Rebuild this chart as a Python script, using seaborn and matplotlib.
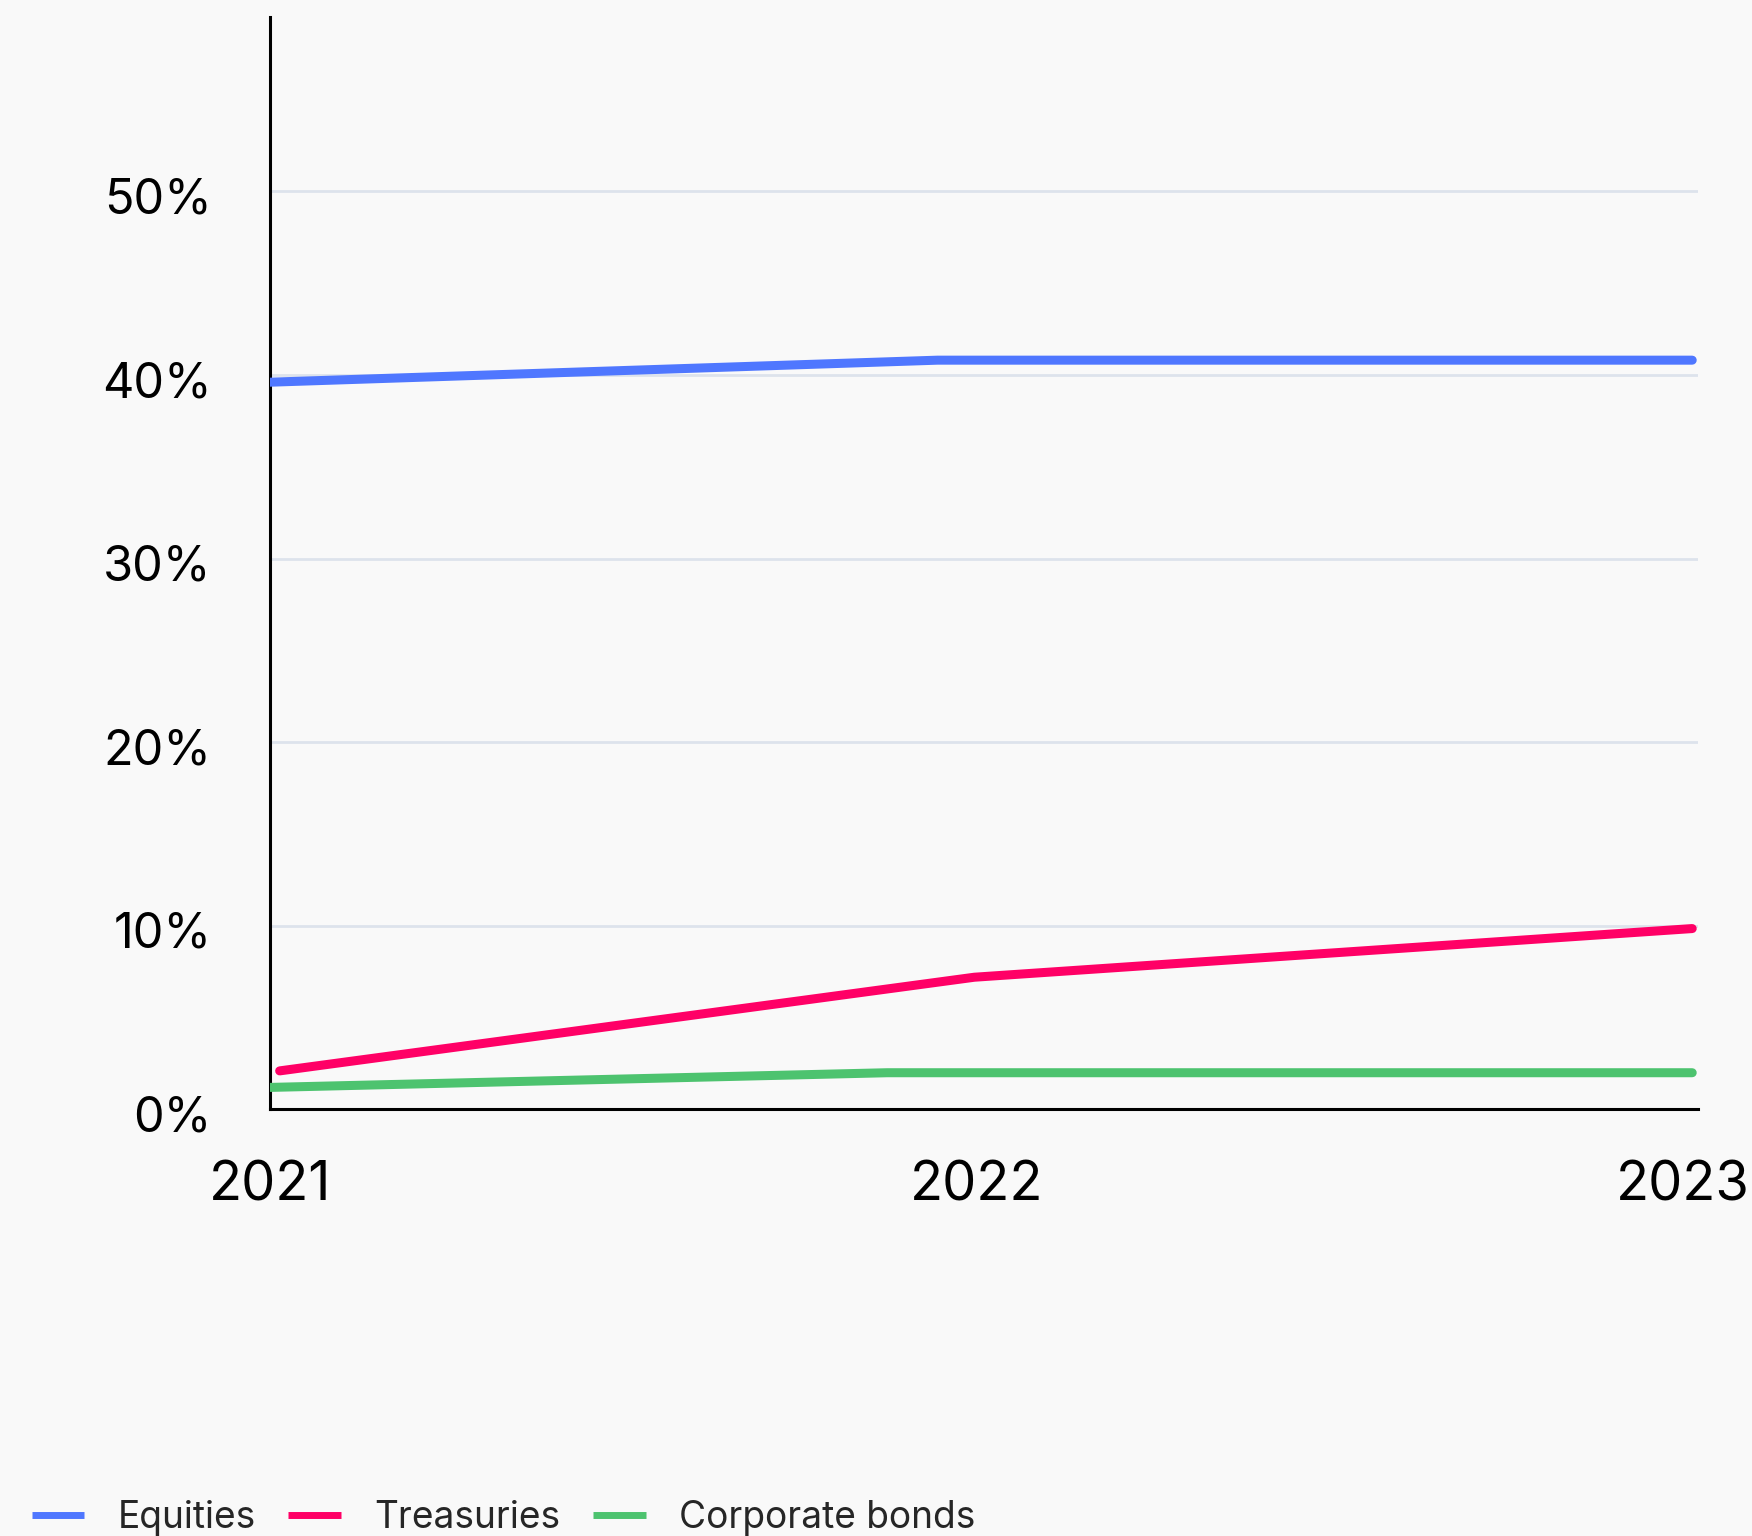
import numpy as np
import pandas as pd
import matplotlib
matplotlib.use("Agg")
import matplotlib.pyplot as plt
import matplotlib.transforms as mtransforms
import seaborn as sns

# data
equities_dates = ["2021-01-01", "2021-12-12", "2023-01-06"]
equities_vals = [39.6, 40.8, 40.8]
treasuries_dates = ["2021-01-06", "2021-12-31", "2023-01-06"]
treasuries_vals = [2.1, 7.2, 9.85]
corp_dates = ["2021-01-01", "2021-11-16", "2023-01-06"]
corp_vals = [1.2, 2.0, 2.0]

series_names = ["Equities", "Treasuries", "Corporate bonds"]
colors = ["#4f77ff", "#ff0066", "#4dc36f"]
year_ticks = ["2021-01-01", "2022-01-01", "2023-01-01"]
year_labels = ["2021", "2022", "2023"]
y_ticks = [0, 10, 20, 30, 40, 50]

frames = []
for name, d, v in zip(series_names,
                      [equities_dates, treasuries_dates, corp_dates],
                      [equities_vals, treasuries_vals, corp_vals]):
    frames.append(pd.DataFrame({"date": pd.to_datetime(d), "value": v, "series": name}))
df = pd.concat(frames, ignore_index=True)

sns.set_theme(style="white")
plt.rcParams["font.family"] = ["Inter", "DejaVu Sans"]

bg = "#f9f9f9"
fig = plt.figure(figsize=(17.52, 15.36), dpi=100, facecolor=bg)
ax = fig.add_axes([0.1541, 0.2777, 0.9692 - 0.1541, 0.9891 - 0.2777])
ax.set_facecolor(bg)

sns.lineplot(data=df, x="date", y="value", hue="series", hue_order=series_names,
             palette=dict(zip(series_names, colors)), linewidth=6.5, ax=ax,
             legend=False, solid_capstyle="round", zorder=3)

ax.set_xlim(pd.Timestamp("2021-01-01"), pd.Timestamp("2023-01-09"))
ax.set_ylim(0, 59.5)

ax.set_yticks(y_ticks)
ax.set_yticklabels([f"{t}%" for t in y_ticks])
ax.set_xticks(pd.to_datetime(year_ticks))
ax.set_xticklabels(year_labels)
ax.tick_params(axis="y", length=0, pad=42, labelsize=35, colors="black")
ax.tick_params(axis="x", length=0, pad=37, labelsize=39, colors="black")

# y labels sit a touch below their gridlines in the reference
shift = mtransforms.ScaledTranslation(0, -3 / 72, fig.dpi_scale_trans)
for lab in ax.get_yticklabels():
    lab.set_transform(lab.get_transform() + shift)

for t in y_ticks[1:]:
    ax.axhline(t, color="#dde3ec", linewidth=2, zorder=1)

for s in ["top", "right"]:
    ax.spines[s].set_visible(False)
for s in ["left", "bottom"]:
    ax.spines[s].set_color("black")
    ax.spines[s].set_linewidth(2.2)
ax.set_xlabel("")
ax.set_ylabel("")

handles = [plt.Line2D([], [], color=c, linewidth=5, solid_capstyle="butt") for c in colors]
fig.legend(handles, series_names, loc="lower left", bbox_to_anchor=(0.018, 0.0),
           ncol=3, frameon=False, fontsize=26.7, handlelength=1.42,
           handletextpad=0.9, columnspacing=0.88, borderaxespad=0, borderpad=0)

fig.savefig("out.png", dpi=100, facecolor=bg)
